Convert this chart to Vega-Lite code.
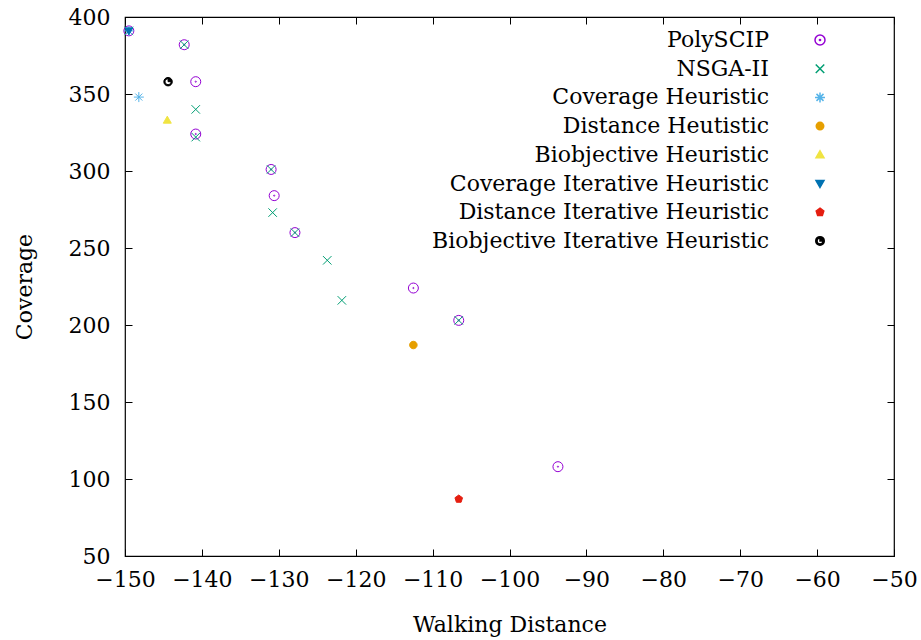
{
  "$schema": "https://vega.github.io/schema/vega-lite/v6.json",
  "width": 769,
  "height": 539,
  "autosize": "none",
  "padding": {"left": 125, "top": 17, "right": 27, "bottom": 84},
  "background": "white",
  "config": {
    "font": "DejaVu Serif",
    "view": {"stroke": "black", "strokeWidth": 1.2},
    "axis": {
      "grid": false,
      "domain": false,
      "tickColor": "black",
      "labelColor": "black",
      "titleColor": "black",
      "labelFont": "DejaVu Serif",
      "titleFont": "DejaVu Serif",
      "labelFontSize": 22,
      "titleFontSize": 22,
      "titleFontWeight": "normal",
      "tickSize": 7,
      "tickWidth": 1,
      "offset": -7,
      "labelOverlap": false,
      "labelFlush": false
    },
    "legend": {
      "labelFont": "DejaVu Serif",
      "labelFontSize": 22,
      "labelColor": "black",
      "labelLimit": 0
    }
  },
  "data": {
    "values": [
      {"series": "PolySCIP", "dist": -149.5, "cov": 391},
      {"series": "PolySCIP", "dist": -142.3, "cov": 382},
      {"series": "PolySCIP", "dist": -140.8, "cov": 358},
      {"series": "PolySCIP", "dist": -140.8, "cov": 324},
      {"series": "PolySCIP", "dist": -131.0, "cov": 301},
      {"series": "PolySCIP", "dist": -130.6, "cov": 284},
      {"series": "PolySCIP", "dist": -127.9, "cov": 260},
      {"series": "PolySCIP", "dist": -112.5, "cov": 224},
      {"series": "PolySCIP", "dist": -106.6, "cov": 203},
      {"series": "PolySCIP", "dist": -93.7, "cov": 108},
      {"series": "NSGA-II", "dist": -149.5, "cov": 391},
      {"series": "NSGA-II", "dist": -142.3, "cov": 382},
      {"series": "NSGA-II", "dist": -140.8, "cov": 340},
      {"series": "NSGA-II", "dist": -140.8, "cov": 322},
      {"series": "NSGA-II", "dist": -131.0, "cov": 301},
      {"series": "NSGA-II", "dist": -130.8, "cov": 273},
      {"series": "NSGA-II", "dist": -127.9, "cov": 260},
      {"series": "NSGA-II", "dist": -123.7, "cov": 242},
      {"series": "NSGA-II", "dist": -121.8, "cov": 216},
      {"series": "NSGA-II", "dist": -106.6, "cov": 203},
      {"series": "Coverage Heuristic", "dist": -149.5, "cov": 391},
      {"series": "Coverage Heuristic", "dist": -148.2, "cov": 348},
      {"series": "Distance Heutistic", "dist": -112.5, "cov": 187},
      {"series": "Biobjective Heuristic", "dist": -144.5, "cov": 333},
      {"series": "Coverage Iterative Heuristic", "dist": -149.5, "cov": 391},
      {"series": "Distance Iterative Heuristic", "dist": -106.6, "cov": 87},
      {"series": "Biobjective Iterative Heuristic", "dist": -144.4, "cov": 358}
    ]
  },
  "layer": [
    {
      "mark": {"type": "point", "size": 100, "strokeWidth": 1, "opacity": 1},
      "encoding": {
        "x": {
          "field": "dist", "type": "quantitative",
          "scale": {"domain": [-150, -50], "nice": false, "zero": false},
          "axis": {"orient": "bottom", "values": [-150, -140, -130, -120, -110, -100, -90, -80, -70, -60, -50], "title": "Walking Distance", "labelPadding": 13, "titlePadding": 24}
        },
        "y": {
          "field": "cov", "type": "quantitative",
          "scale": {"domain": [50, 400], "nice": false, "zero": false},
          "axis": {"orient": "left", "values": [50, 100, 150, 200, 250, 300, 350, 400], "title": "Coverage", "labelPadding": 15, "titlePadding": 32}
        },
        "shape": {
          "field": "series", "type": "nominal",
          "scale": {
            "domain": ["PolySCIP", "NSGA-II", "Coverage Heuristic", "Distance Heutistic", "Biobjective Heuristic", "Coverage Iterative Heuristic", "Distance Iterative Heuristic", "Biobjective Iterative Heuristic"],
            "range": [
              "M1,0A1,1,0,1,1,-1,0A1,1,0,1,1,1,0ZM0.12,0A0.12,0.12,0,1,1,-0.12,0A0.12,0.12,0,1,1,0.12,0Z",
              "M-0.85,-0.85L0.85,0.85M-0.85,0.85L0.85,-0.85",
              "M-1,0L1,0M0,-1L0,1M-0.7,-0.7L0.7,0.7M-0.7,0.7L0.7,-0.7",
              "M0.75,0A0.75,0.75,0,1,1,-0.75,0A0.75,0.75,0,1,1,0.75,0Z",
              "M0,-0.8L0.8,0.6L-0.8,0.6Z",
              "M0,0.8L0.8,-0.6L-0.8,-0.6Z",
              "M0,-0.8L0.76,-0.25L0.47,0.65L-0.47,0.65L-0.76,-0.25Z",
              "M0.85,0A0.85,0.85,0,1,1,-0.85,0A0.85,0.85,0,1,1,0.85,0ZM0.6,0A0.6,0.6,0,1,0,-0.6,0A0.6,0.6,0,1,0,0.6,0ZM0,0L0,-0.6A0.6,0.6,0,0,1,0.6,0Z"
            ]
          },
          "legend": {
            "title": null,
            "orient": "none",
            "legendX": 684,
            "legendY": 12,
            "labelAlign": "right",
            "labelOffset": -62,
            "rowPadding": 6.7,
            "symbolSize": 100,
            "padding": 0
          }
        },
        "stroke": {
          "field": "series", "type": "nominal",
          "scale": {
            "domain": ["PolySCIP", "NSGA-II", "Coverage Heuristic", "Distance Heutistic", "Biobjective Heuristic", "Coverage Iterative Heuristic", "Distance Iterative Heuristic", "Biobjective Iterative Heuristic"],
            "range": ["#9400d3", "#009e73", "#56b4e9", "#e69f00", "#f0e442", "#0072b2", "#e51e10", "#000000"]
          }
        },
        "fill": {
          "field": "series", "type": "nominal",
          "scale": {
            "domain": ["PolySCIP", "NSGA-II", "Coverage Heuristic", "Distance Heutistic", "Biobjective Heuristic", "Coverage Iterative Heuristic", "Distance Iterative Heuristic", "Biobjective Iterative Heuristic"],
            "range": ["transparent", "transparent", "transparent", "#e69f00", "#f0e442", "#0072b2", "#e51e10", "#000000"]
          }
        }
      }
    },
    {
      "mark": {"type": "point", "opacity": 0},
      "encoding": {
        "x": {"field": "dist", "type": "quantitative", "axis": {"orient": "top", "labels": false, "title": null, "values": [-150, -140, -130, -120, -110, -100, -90, -80, -70, -60, -50]}},
        "y": {"field": "cov", "type": "quantitative", "axis": {"orient": "right", "labels": false, "title": null, "values": [50, 100, 150, 200, 250, 300, 350, 400]}}
      }
    }
  ],
  "resolve": {"axis": {"x": "independent", "y": "independent"}}
}
